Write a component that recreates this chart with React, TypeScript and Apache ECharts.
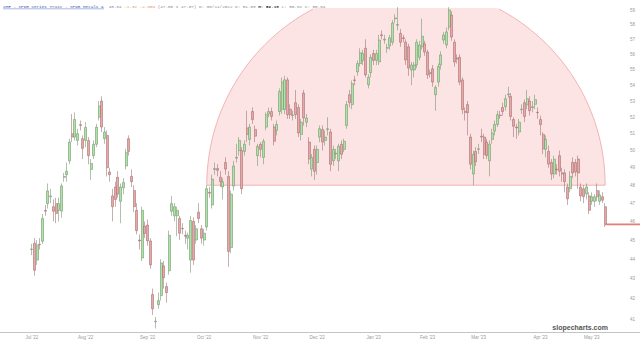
import React, { useEffect, useRef } from "react";
import * as echarts from "echarts";

// trading days per month (categories)
const monthDays: [string, number[]][] = [
  ["2022-07", [1, 5, 6, 7, 8, 11, 12, 13, 14, 15, 18, 19, 20, 21, 22, 25, 26, 27, 28, 29]],
  ["2022-08", [1, 2, 3, 4, 5, 8, 9, 10, 11, 12, 15, 16, 17, 18, 19, 22, 23, 24, 25, 26, 29, 30, 31]],
  ["2022-09", [1, 2, 6, 7, 8, 9, 12, 13, 14, 15, 16, 19, 20, 21, 22, 23, 26, 27, 28, 29, 30]],
  ["2022-10", [3, 4, 5, 6, 7, 10, 11, 12, 13, 14, 17, 18, 19, 20, 21, 24, 25, 26, 27, 28, 31]],
  ["2022-11", [1, 2, 3, 4, 7, 8, 9, 10, 11, 14, 15, 16, 17, 18, 21, 22, 23, 25, 28, 29, 30]],
  ["2022-12", [1, 2, 5, 6, 7, 8, 9, 12, 13, 14, 15, 16, 19, 20, 21, 22, 23, 27, 28, 29, 30]],
  ["2023-01", [3, 4, 5, 6, 9, 10, 11, 12, 13, 17, 18, 19, 20, 23, 24, 25, 26, 27, 30, 31]],
  ["2023-02", [1, 2, 3, 6, 7, 8, 9, 10, 13, 14, 15, 16, 17, 21, 22, 23, 24, 27, 28]],
  ["2023-03", [1, 2, 3, 6, 7, 8, 9, 10, 13, 14, 15, 16, 17, 20, 21, 22, 23, 24, 27, 28, 29, 30, 31]],
  ["2023-04", [3, 4, 5, 6, 10, 11, 12, 13, 14, 17, 18, 19, 20, 21, 24, 25, 26, 27, 28]],
  ["2023-05", [1, 2, 3, 4, 5, 8]],
];
const dates: string[] = monthDays.flatMap(([m, ds]) =>
  ds.map((d) => `${m}-${String(d).padStart(2, "0")}`)
);

// [open, close, low, high]
const ohlc: number[][] = [
  [44.5, 44.52, 44.2, 44.8], [44.83, 43.43, 43.15, 45.1], [43.95, 44.73, 43.7, 45.0], [44.78, 44.75, 44.5, 45.1],
  [44.94, 46.16, 44.8, 46.4], [46.6, 46.55, 46.3, 46.9], [46.97, 47.68, 46.7, 48.1], [47.35, 47.4, 47.0, 47.8],
  [46.8, 46.55, 46.0, 47.2], [46.97, 46.43, 45.9, 47.3], [46.6, 46.97, 46.0, 47.3], [46.56, 47.96, 46.2, 48.1],
  [48.45, 48.5, 48.2, 48.7], [48.6, 48.8, 48.2, 49.3], [49.4, 50.5, 49.2, 50.7], [51.0, 50.8, 50.5, 52.2],
  [50.8, 51.86, 50.6, 52.3], [50.6, 51.0, 50.3, 51.3], [51.55, 51.5, 51.2, 51.8], [50.7, 50.13, 49.5, 50.9],
  [50.6, 51.38, 50.2, 51.7], [50.6, 49.7, 49.2, 50.8], [48.9, 49.25, 48.3, 49.5], [49.7, 50.37, 49.5, 50.6],
  [50.37, 51.4, 50.2, 51.6], [52.0, 52.7, 51.8, 53.0], [53.0, 51.4, 51.1, 53.3], [50.7, 51.1, 50.4, 51.4],
  [50.9, 49.0, 48.5, 51.2], [48.75, 48.6, 48.2, 49.0], [47.4, 46.8, 46.0, 47.8], [47.9, 47.2, 46.8, 48.2],
  [48.45, 47.5, 47.3, 48.8], [47.1, 47.9, 45.9, 48.1], [47.85, 48.15, 47.5, 48.4], [49.1, 49.9, 48.9, 50.1],
  [50.7, 49.95, 49.7, 50.9], [48.5, 48.2, 47.9, 48.9], [47.7, 46.8, 46.5, 48.0], [46.6, 45.5, 45.3, 47.0],
  [45.0, 44.95, 44.5, 45.3], [44.06, 46.6, 43.9, 46.8], [45.75, 45.35, 45.1, 46.0], [45.8, 44.95, 44.7, 46.1],
  [44.95, 43.7, 43.5, 45.1], [42.2, 41.5, 41.2, 42.5], [40.87, 40.9, 40.55, 41.1], [41.7, 41.9, 41.5, 42.3],
  [42.15, 43.8, 41.9, 44.0], [43.65, 43.05, 42.5, 43.9], [42.6, 42.3, 41.8, 42.8], [43.4, 45.25, 43.2, 45.5],
  [46.55, 46.97, 46.3, 47.4], [46.3, 46.8, 46.0, 47.0], [46.3, 46.6, 45.2, 46.8], [46.16, 45.36, 45.0, 46.3],
  [45.62, 45.6, 45.3, 45.9], [45.25, 45.2, 44.8, 45.5], [45.1, 45.25, 44.5, 45.4], [43.95, 46.05, 43.3, 46.3],
  [46.0, 43.95, 43.7, 46.2], [45.0, 45.6, 44.8, 45.8], [46.5, 46.16, 45.9, 47.0], [45.6, 45.1, 44.8, 45.8],
  [45.0, 45.36, 44.7, 45.6], [45.7, 47.8, 45.5, 48.0], [47.6, 47.55, 47.3, 47.9], [46.9, 48.35, 46.7, 48.6],
  [48.9, 48.95, 48.6, 49.3], [48.95, 48.85, 48.5, 49.2], [48.45, 48.2, 47.9, 48.8], [47.9, 48.2, 47.2, 48.4],
  [49.3, 48.92, 48.6, 49.6], [48.5, 44.4, 43.6, 48.8], [44.6, 47.5, 44.3, 47.7], [47.95, 49.1, 47.7, 49.4],
  [49.55, 49.6, 49.3, 50.4], [50.0, 50.6, 49.7, 50.8], [50.0, 47.8, 47.5, 50.2], [49.95, 50.37, 49.7, 50.6],
  [51.35, 50.96, 50.5, 52.4], [50.66, 51.4, 50.3, 51.6], [52.35, 51.86, 51.6, 52.6], [51.26, 50.85, 50.5, 51.5],
  [49.7, 50.25, 49.1, 50.4], [50.37, 50.07, 49.6, 50.5], [49.6, 50.55, 49.2, 50.7], [51.4, 52.16, 51.2, 52.3],
  [52.2, 52.35, 52.0, 52.6], [52.35, 52.05, 51.8, 52.6], [51.4, 50.55, 50.3, 51.6], [51.2, 51.56, 50.9, 51.8],
  [52.35, 53.6, 52.1, 53.8], [52.5, 54.2, 52.2, 54.5], [52.47, 54.34, 52.2, 54.6], [54.34, 52.16, 51.9, 54.5],
  [52.5, 52.16, 51.9, 52.8], [52.1, 52.13, 51.8, 52.4], [52.9, 52.16, 51.9, 53.7], [52.6, 51.05, 50.8, 52.8],
  [50.96, 51.7, 50.6, 51.9], [53.5, 51.95, 51.5, 53.7], [51.7, 51.95, 51.4, 52.2], [50.5, 49.5, 49.2, 50.8],
  [48.92, 49.6, 48.5, 49.8], [50.07, 48.8, 48.3, 50.3], [49.3, 50.07, 48.6, 50.3], [50.8, 51.3, 50.5, 51.5],
  [51.26, 50.5, 50.0, 51.5], [50.6, 50.8, 50.3, 51.2], [51.26, 51.3, 50.9, 52.0], [51.1, 49.2, 48.8, 51.3],
  [49.4, 50.07, 49.1, 50.3], [49.8, 49.85, 49.5, 50.1], [49.4, 50.25, 48.8, 50.4], [50.37, 49.78, 49.5, 50.6],
  [50.07, 50.55, 49.9, 50.7], [51.5, 52.78, 51.3, 53.0], [53.4, 52.9, 52.6, 53.7], [52.78, 54.1, 52.5, 54.3],
  [54.34, 54.3, 54.0, 54.6], [54.85, 55.4, 54.6, 55.6], [55.4, 56.1, 55.2, 56.4], [55.6, 56.05, 55.3, 56.3],
  [56.4, 54.66, 54.5, 57.0], [54.03, 54.5, 53.8, 54.7], [54.8, 55.8, 54.5, 56.0], [56.05, 55.6, 55.3, 56.3],
  [55.6, 56.05, 55.3, 56.3], [55.5, 56.95, 55.3, 57.3], [57.3, 57.25, 57.0, 57.6], [56.95, 57.0, 56.7, 57.3],
  [56.4, 56.45, 56.1, 56.7], [56.55, 57.1, 56.3, 57.3], [56.8, 58.1, 56.6, 58.3], [58.4, 58.45, 58.1, 58.7],
  [57.95, 58.0, 57.6, 59.2], [57.4, 56.8, 56.5, 57.7], [57.1, 57.05, 56.8, 57.3], [56.8, 55.63, 55.3, 57.0],
  [56.5, 55.1, 54.6, 56.7], [54.98, 55.3, 54.0, 55.5], [54.98, 55.3, 54.5, 55.5], [55.31, 56.8, 55.1, 57.0],
  [55.8, 56.62, 55.6, 56.9], [56.5, 57.2, 56.3, 58.4], [56.7, 56.15, 55.9, 56.9], [56.15, 54.66, 54.4, 56.3],
  [54.8, 54.75, 54.5, 55.0], [55.05, 54.2, 53.9, 55.3], [53.4, 53.85, 52.4, 54.0], [54.2, 55.2, 53.9, 55.4],
  [55.3, 55.96, 55.0, 56.2], [56.95, 57.29, 56.7, 57.5], [56.62, 57.5, 56.4, 57.8], [57.83, 59.0, 57.6, 59.2],
  [58.65, 57.15, 56.9, 58.9], [56.8, 55.5, 55.2, 57.0], [55.75, 55.7, 55.4, 56.0], [55.8, 54.2, 54.0, 56.0],
  [54.34, 52.47, 52.2, 54.5], [52.35, 52.3, 51.8, 52.6], [52.78, 52.28, 50.9, 53.0], [50.8, 49.2, 48.9, 51.0],
  [48.64, 49.78, 48.0, 50.0], [49.95, 49.35, 49.1, 50.2], [50.07, 50.1, 49.8, 50.4], [50.85, 50.8, 50.5, 51.3],
  [50.8, 49.78, 49.5, 51.0], [50.5, 49.7, 49.5, 50.7], [49.4, 50.37, 48.5, 50.6], [50.66, 51.05, 50.4, 51.3],
  [51.15, 51.56, 50.9, 51.8], [51.56, 52.16, 51.4, 52.4], [52.13, 52.1, 51.9, 52.4], [52.6, 52.35, 52.1, 52.9],
  [52.65, 53.15, 52.4, 53.4], [53.4, 53.45, 53.2, 53.9], [53.3, 52.05, 51.8, 53.5], [51.86, 51.45, 50.8, 52.0],
  [51.4, 51.35, 50.7, 51.6], [51.1, 51.7, 50.9, 51.9], [52.47, 52.5, 52.2, 52.8], [52.9, 52.05, 51.7, 53.1],
  [52.78, 53.15, 52.5, 53.7], [53.0, 52.4, 52.1, 53.3], [52.6, 52.65, 52.3, 53.0], [52.8, 53.09, 52.5, 53.4],
  [52.3, 52.28, 51.9, 52.6], [51.86, 51.56, 50.9, 52.1], [50.96, 50.1, 49.8, 51.1], [50.07, 50.66, 49.6, 50.9],
  [49.95, 49.21, 49.0, 50.3], [49.3, 48.64, 48.3, 49.5], [48.64, 49.49, 48.4, 49.7], [48.92, 48.88, 48.6, 49.2],
  [49.7, 48.8, 48.5, 50.0], [48.7, 48.65, 48.2, 49.0], [48.7, 48.2, 47.6, 48.9], [47.9, 47.24, 46.9, 48.1],
  [47.8, 48.5, 47.6, 48.8], [49.3, 48.7, 48.4, 49.6], [49.3, 48.75, 48.5, 49.5], [49.5, 48.7, 47.8, 49.7],
  [47.9, 47.4, 47.1, 48.1], [47.8, 47.35, 47.0, 48.0], [47.5, 47.9, 47.2, 48.1], [47.4, 46.6, 46.4, 47.6],
  [47.1, 47.35, 46.9, 47.6], [47.1, 47.35, 46.8, 47.5], [47.7, 47.35, 47.1, 48.1], [47.1, 47.45, 46.9, 47.7],
  [47.35, 47.16, 47.0, 47.6], [46.8, 45.84, 45.7, 47.0],
];

const yTicks = [41, 42, 43, 44, 45, 46, 47, 48, 49, 50, 51, 52, 53, 54, 55, 56, 57, 58, 59];
const yMin = 40.38;
const yMax = 59.14;

// semicircle annotation: base from arcStart to arcEnd at arcLevel
const arcStart = "2022-10-04";
const arcEnd = "2023-05-08";
const arcLevel = 48.0;

const monthNames = ["Jan", "Feb", "Mar", "Apr", "May", "Jun", "Jul", "Aug", "Sep", "Oct", "Nov", "Dec"];

export default function App() {
  const ref = useRef<HTMLDivElement>(null);
  useEffect(() => {
    if (!ref.current) return;
    const chart = echarts.init(ref.current, undefined, { renderer: "svg" });
    const lastIdx = ohlc.length - 1;
    const lastClose = ohlc[lastIdx][1];
    const arcS = dates.indexOf(arcStart);
    const arcE = dates.indexOf(arcEnd);

    const option: any = {
      animation: false,
      backgroundColor: "#ffffff",
      grid: { left: 30.5, right: 33.5, top: 8, bottom: 11 },
      xAxis: {
        type: "category",
        data: dates,
        boundaryGap: true,
        axisLine: { show: false },
        axisTick: { show: false },
        splitLine: { show: false },
        axisLabel: {
          interval: (i: number) => i === 0 || dates[i].slice(0, 7) !== dates[i - 1].slice(0, 7),
          formatter: (v: string) => `${monthNames[parseInt(v.slice(5, 7), 10) - 1]} '${v.slice(2, 4)}`,
          fontSize: 4.5,
          color: "#999",
          margin: 3,
          fontFamily: "Liberation Sans",
        },
      },
      yAxis: {
        type: "log",
        logBase: 10,
        min: yMin,
        max: yMax,
        axisLine: { show: false },
        axisTick: { show: false },
        axisLabel: { show: false },
        splitLine: { show: false },
      },
      series: [
        {
          type: "custom",
          z: 1,
          silent: true,
          data: [[arcS, arcE, arcLevel]],
          encode: { x: [0, 1], y: 2 },
          renderItem: (params: any, api: any) => {
            const p1 = api.coord([api.value(0), api.value(2)]);
            const p2 = api.coord([api.value(1), api.value(2)]);
            const top = params.coordSys.y;
            const cx = (p1[0] + p2[0]) / 2;
            const r = (p2[0] - p1[0]) / 2;
            const cy = p1[1];
            const fillPts: number[][] = [];
            const left: number[][] = [];
            const right: number[][] = [];
            const N = 240;
            for (let i = 0; i <= N; i++) {
              const t = Math.PI - (Math.PI * i) / N;
              const x = cx + r * Math.cos(t);
              const y = cy - r * Math.sin(t);
              fillPts.push([x, Math.max(y, top)]);
              if (y >= top) (i < N / 2 ? left : right).push([x, y]);
            }
            const stroke = { stroke: "#eba3a3", lineWidth: 0.8, fill: "none" };
            return {
              type: "group",
              children: [
                { type: "polygon", shape: { points: fillPts }, style: { fill: "rgba(250,190,190,0.42)", stroke: "none" } },
                { type: "polyline", shape: { points: left }, style: stroke },
                { type: "polyline", shape: { points: right }, style: stroke },
                { type: "line", shape: { x1: p1[0], y1: cy, x2: p2[0], y2: cy }, style: { stroke: "#eba3a3", lineWidth: 0.8 } },
              ],
            };
          },
        },
        {
          type: "candlestick",
          z: 2,
          data: ohlc,
          barWidth: 2.5,
          itemStyle: {
            color: "#a9e6a2",
            color0: "#eea5a5",
            borderColor: "#6f8d6b",
            borderColor0: "#9a6b6b",
            borderWidth: 0.55,
          },
        },
        {
          type: "custom",
          z: 3,
          silent: true,
          data: [[lastIdx, lastClose]],
          encode: { x: 0, y: 1 },
          renderItem: (params: any, api: any) => {
            const p = api.coord([api.value(0), api.value(1)]);
            return {
              type: "line",
              shape: { x1: p[0], y1: p[1], x2: api.getWidth(), y2: p[1] },
              style: { stroke: "#e67c7c", lineWidth: 1.8 },
            };
          },
        },
        {
          type: "custom",
          z: 3,
          silent: true,
          data: yTicks.map((v) => [0, v]),
          encode: { x: 0, y: 1 },
          renderItem: (params: any, api: any) => {
            const cs = params.coordSys;
            const p = api.coord([0, api.value(1)]);
            return {
              type: "text",
              x: cs.x + cs.width + 26,
              y: p[1],
              style: {
                text: String(api.value(1)),
                fontSize: 4.5,
                fill: "#999",
                align: "center",
                verticalAlign: "middle",
                fontFamily: "Liberation Sans",
              },
            };
          },
        },
      ],
      graphic: [
        {
          type: "line",
          silent: true,
          shape: { x1: 0, y1: 332.5, x2: 640, y2: 332.5 },
          style: { stroke: "#c4c4c4", lineWidth: 1 },
        },
        {
          type: "text",
          x: 3,
          y: 6,
          silent: true,
          style: {
            text:
              "{a|XME - SPDR Series Trust - SPDR Metals &}  {b|45.84} {c|-1.32 -2.80%} {b|(47.06 x 47.07) D: 08/11/2022 O: 51.03} {d|H: 52.18} {b|L: 50.81 C: 50.84}",
            fontFamily: "Liberation Mono",
            fontSize: 4.3,
            verticalAlign: "middle",
            rich: {
              a: { fill: "#3b56b0", fontFamily: "Liberation Mono", fontSize: 4.3 },
              b: { fill: "#8a8a8a", fontFamily: "Liberation Mono", fontSize: 4.3 },
              c: { fill: "#e6905a", fontFamily: "Liberation Mono", fontSize: 4.3 },
              d: { fill: "#333", fontFamily: "Liberation Mono", fontSize: 4.3, fontWeight: "bold" },
            },
          },
        },
        {
          type: "line",
          silent: true,
          shape: { x1: 3, y1: 8.8, x2: 104, y2: 8.8 },
          style: { stroke: "#5a72c0", lineWidth: 0.5 },
        },
        {
          type: "text",
          x: 608,
          y: 327,
          silent: true,
          style: {
            text: "slopecharts.com",
            fontFamily: "Liberation Sans",
            fontSize: 7,
            fontWeight: "bold",
            fill: "#555",
            align: "right",
            verticalAlign: "middle",
          },
        },
      ],
    };
    chart.setOption(option);
    return () => chart.dispose();
  }, []);
  return (
    <div
      ref={ref}
      style={{ position: "fixed", left: 0, top: 0, width: 640, height: 343 }}
    />
  );
}
